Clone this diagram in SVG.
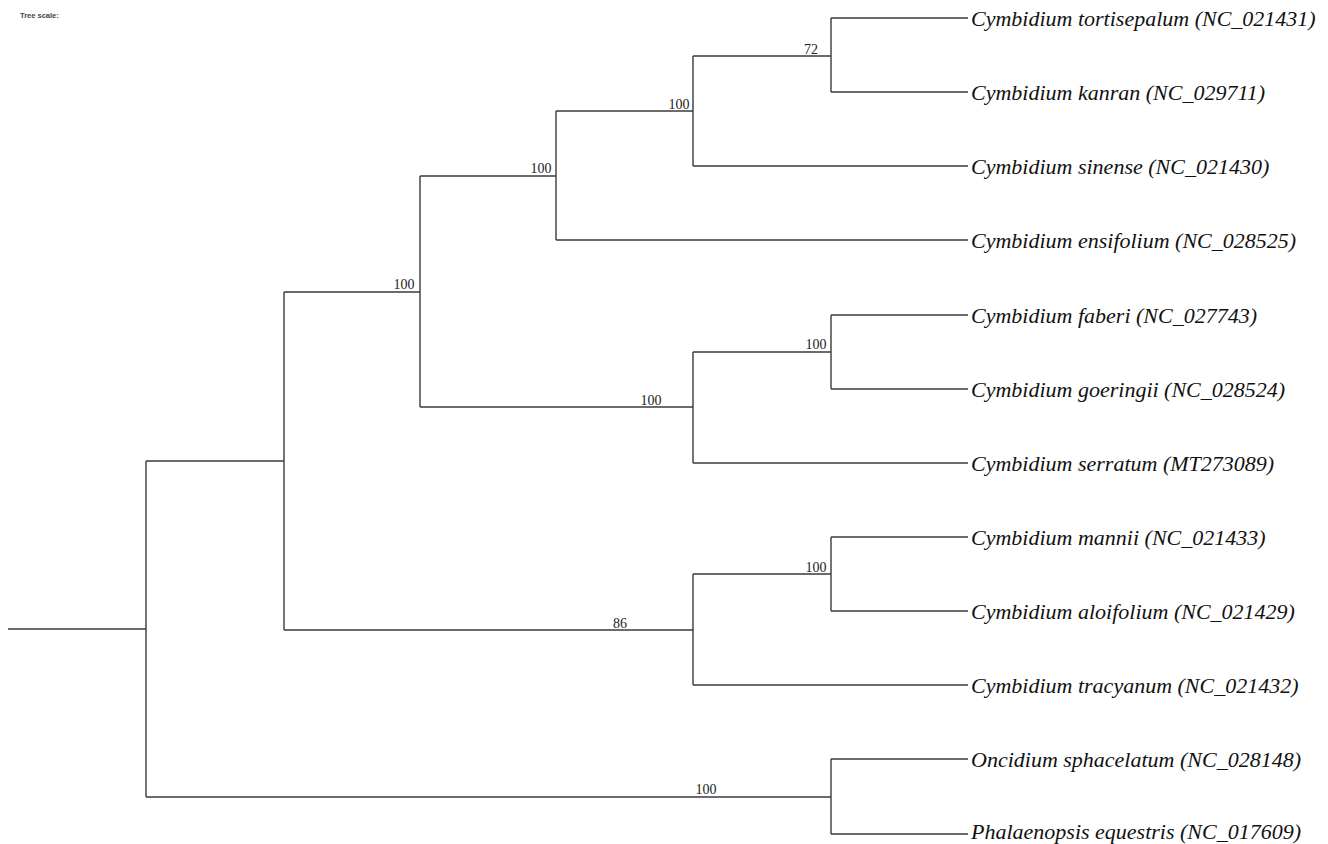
<svg xmlns="http://www.w3.org/2000/svg" width="1328" height="844" viewBox="0 0 1328 844">
<style>
.br{fill:none;stroke:#3a3a3a;stroke-width:1.4}
.leaf{font-family:"Liberation Serif",serif;font-style:italic;font-size:22px;fill:#111}
.bs{font-family:"Liberation Serif",serif;font-size:14px;fill:#222;text-anchor:middle}
.ts{font-family:"Liberation Sans",sans-serif;font-weight:bold;font-size:7.5px;fill:#444}
</style>
<rect width="1328" height="844" fill="#fff"/>
<text class="ts" x="20" y="18">Tree scale:</text>
<g id="connectors">
<path class="br" d="M8,629H146"/>
<path class="br" d="M146,461V797"/>
<path class="br" d="M146,461H284"/>
<path class="br" d="M146,797H831"/>
<path class="br" d="M284,292V630"/>
<path class="br" d="M284,292H420"/>
<path class="br" d="M284,630H693"/>
<path class="br" d="M420,176V407"/>
<path class="br" d="M420,176H556"/>
<path class="br" d="M420,407H693"/>
<path class="br" d="M556,111V240"/>
<path class="br" d="M556,111H693"/>
<path class="br" d="M556,240H968"/>
<path class="br" d="M693,56V166"/>
<path class="br" d="M693,56H831"/>
<path class="br" d="M693,166H968"/>
<path class="br" d="M831,18V92"/>
<path class="br" d="M831,18H968"/>
<path class="br" d="M831,92H968"/>
<path class="br" d="M693,352V463"/>
<path class="br" d="M693,352H831"/>
<path class="br" d="M693,463H968"/>
<path class="br" d="M831,315V389"/>
<path class="br" d="M831,315H968"/>
<path class="br" d="M831,389H968"/>
<path class="br" d="M693,574V685"/>
<path class="br" d="M693,574H831"/>
<path class="br" d="M693,685H968"/>
<path class="br" d="M831,537V611"/>
<path class="br" d="M831,537H968"/>
<path class="br" d="M831,611H968"/>
<path class="br" d="M831,759V834"/>
<path class="br" d="M831,759H968"/>
<path class="br" d="M831,834H968"/>
</g>
<g id="support">
<text class="bs" x="811" y="54">72</text>
<text class="bs" x="679" y="109">100</text>
<text class="bs" x="541" y="173">100</text>
<text class="bs" x="404" y="289">100</text>
<text class="bs" x="816" y="349">100</text>
<text class="bs" x="651" y="405">100</text>
<text class="bs" x="816" y="572">100</text>
<text class="bs" x="620" y="628">86</text>
<text class="bs" x="706" y="794">100</text>
</g>
<g id="leaf1"><text class="leaf" x="971" y="26">Cymbidium tortisepalum (NC_021431)</text></g>
<g id="leaf2"><text class="leaf" x="971" y="100">Cymbidium kanran (NC_029711)</text></g>
<g id="leaf3"><text class="leaf" x="971" y="174">Cymbidium sinense (NC_021430)</text></g>
<g id="leaf4"><text class="leaf" x="971" y="248">Cymbidium ensifolium (NC_028525)</text></g>
<g id="leaf5"><text class="leaf" x="971" y="323">Cymbidium faberi (NC_027743)</text></g>
<g id="leaf6"><text class="leaf" x="971" y="397">Cymbidium goeringii (NC_028524)</text></g>
<g id="leaf7"><text class="leaf" x="971" y="471">Cymbidium serratum (MT273089)</text></g>
<g id="leaf8"><text class="leaf" x="971" y="545">Cymbidium mannii (NC_021433)</text></g>
<g id="leaf9"><text class="leaf" x="971" y="619">Cymbidium aloifolium (NC_021429)</text></g>
<g id="leaf10"><text class="leaf" x="971" y="693">Cymbidium tracyanum (NC_021432)</text></g>
<g id="leaf11"><text class="leaf" x="971" y="767">Oncidium sphacelatum (NC_028148)</text></g>
<g id="leaf12"><text class="leaf" x="971" y="839">Phalaenopsis equestris (NC_017609)</text></g>
</svg>
